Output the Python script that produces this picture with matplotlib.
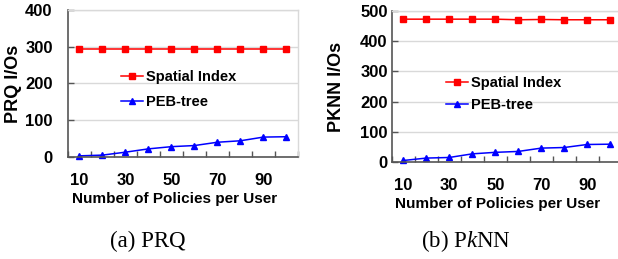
import numpy as np
import matplotlib
matplotlib.use("Agg")
import matplotlib.pyplot as plt

# -------------------------------------------------------------------
# Data
# -------------------------------------------------------------------
policies = [10, 20, 30, 40, 50, 60, 70, 80, 90, 100]
tick_labels = ["10", "30", "50", "70", "90"]

prq_spatial = [293, 293, 293, 293, 293, 293, 293, 293, 293, 293]
prq_peb = [3, 5, 13, 22, 28, 31, 40, 44, 54, 55]

pknn_spatial = [473, 473, 473, 473, 473, 471, 472, 471, 471, 471]
pknn_peb = [5, 13, 15, 27, 32, 35, 46, 48, 58, 59]

plt.rcParams["font.family"] = "Liberation Sans"
plt.rcParams["font.weight"] = "bold"
plt.rcParams["mathtext.fontset"] = "custom"
plt.rcParams["mathtext.it"] = "Liberation Serif:italic:normal"
plt.rcParams["mathtext.rm"] = "Liberation Serif:normal"

DARK = "#555555"
LIGHT = "#d9d9d9"


def style_axes(ax, ymax, ylabel, ytick_pad, label_x, label_y, ylabel_x):
    ax.set_xlim(5, 105)
    ax.set_ylim(0, ymax)
    ax.set_yticks(np.arange(0, ymax + 1, 100))
    ax.set_xticks(policies[::2])
    ax.set_xticklabels(tick_labels)
    ax.set_xticks(np.arange(5, 106, 10), minor=True)
    ax.tick_params(axis="x", which="major", length=0, pad=11.5, labelsize=12)
    ax.tick_params(axis="x", which="minor", direction="in", length=4.5,
                   color=DARK, width=1)
    ax.tick_params(axis="y", direction="in", length=4.5, color=DARK,
                   width=1, pad=ytick_pad, labelsize=12)
    ax.grid(True, axis="y", color=LIGHT, linewidth=1)
    ax.set_axisbelow(True)
    for side in ("left", "bottom"):
        ax.spines[side].set_color(DARK)
        ax.spines[side].set_linewidth(1.2)
    for side in ("top", "right"):
        ax.spines[side].set_color(LIGHT)
        ax.spines[side].set_linewidth(1)
    ax.set_ylabel(ylabel, fontsize=13, fontweight="bold")
    ax.yaxis.set_label_coords(ylabel_x, 0.5)
    ax.set_xlabel("Number of Policies per User", fontsize=11,
                  fontweight="bold")
    ax.xaxis.set_label_coords(label_x, label_y)


def draw(ax, spatial, peb):
    ax.plot(policies, spatial, "-s", color="#ff0000", markersize=4.5,
            linewidth=1.1, label="Spatial Index", clip_on=False)
    ax.plot(policies, peb, "-^", color="#0000ff", markersize=5,
            linewidth=1.1, label="PEB-tree", clip_on=False)


fig = plt.figure(figsize=(6.18, 2.59), dpi=100)

ax1 = fig.add_axes([0.110, 0.394, 0.372, 0.568])
draw(ax1, prq_spatial, prq_peb)
style_axes(ax1, 400, "PRQ I/Os", 11, 0.465, -0.238, -0.2)
ax1.legend(loc="center left", bbox_to_anchor=(0.23, 0.46), frameon=False,
           fontsize=10.5, handlelength=1.5, handletextpad=0.2,
           labelspacing=0.75, borderpad=0, borderaxespad=0)

ax2 = fig.add_axes([0.634, 0.3745, 0.372, 0.583])
draw(ax2, pknn_spatial, pknn_peb)
style_axes(ax2, 500, "PKNN I/Os", 3, 0.46, -0.232, -0.205)
ax2.legend(loc="center left", bbox_to_anchor=(0.235, 0.45), frameon=False,
           fontsize=10.5, handlelength=1.5, handletextpad=0.2,
           labelspacing=0.6, borderpad=0, borderaxespad=0)

fig.text(148 / 618, 1 - 241 / 259, "(a) PRQ", ha="center", va="center",
         family="Liberation Serif", fontweight="normal", fontsize=16.5)
fig.text(466 / 618, 1 - 241 / 259, "(b) P$\\mathit{k}$NN", ha="center",
         va="center", family="Liberation Serif", fontweight="normal",
         fontsize=16.5)

fig.savefig("out.png", dpi=100)
